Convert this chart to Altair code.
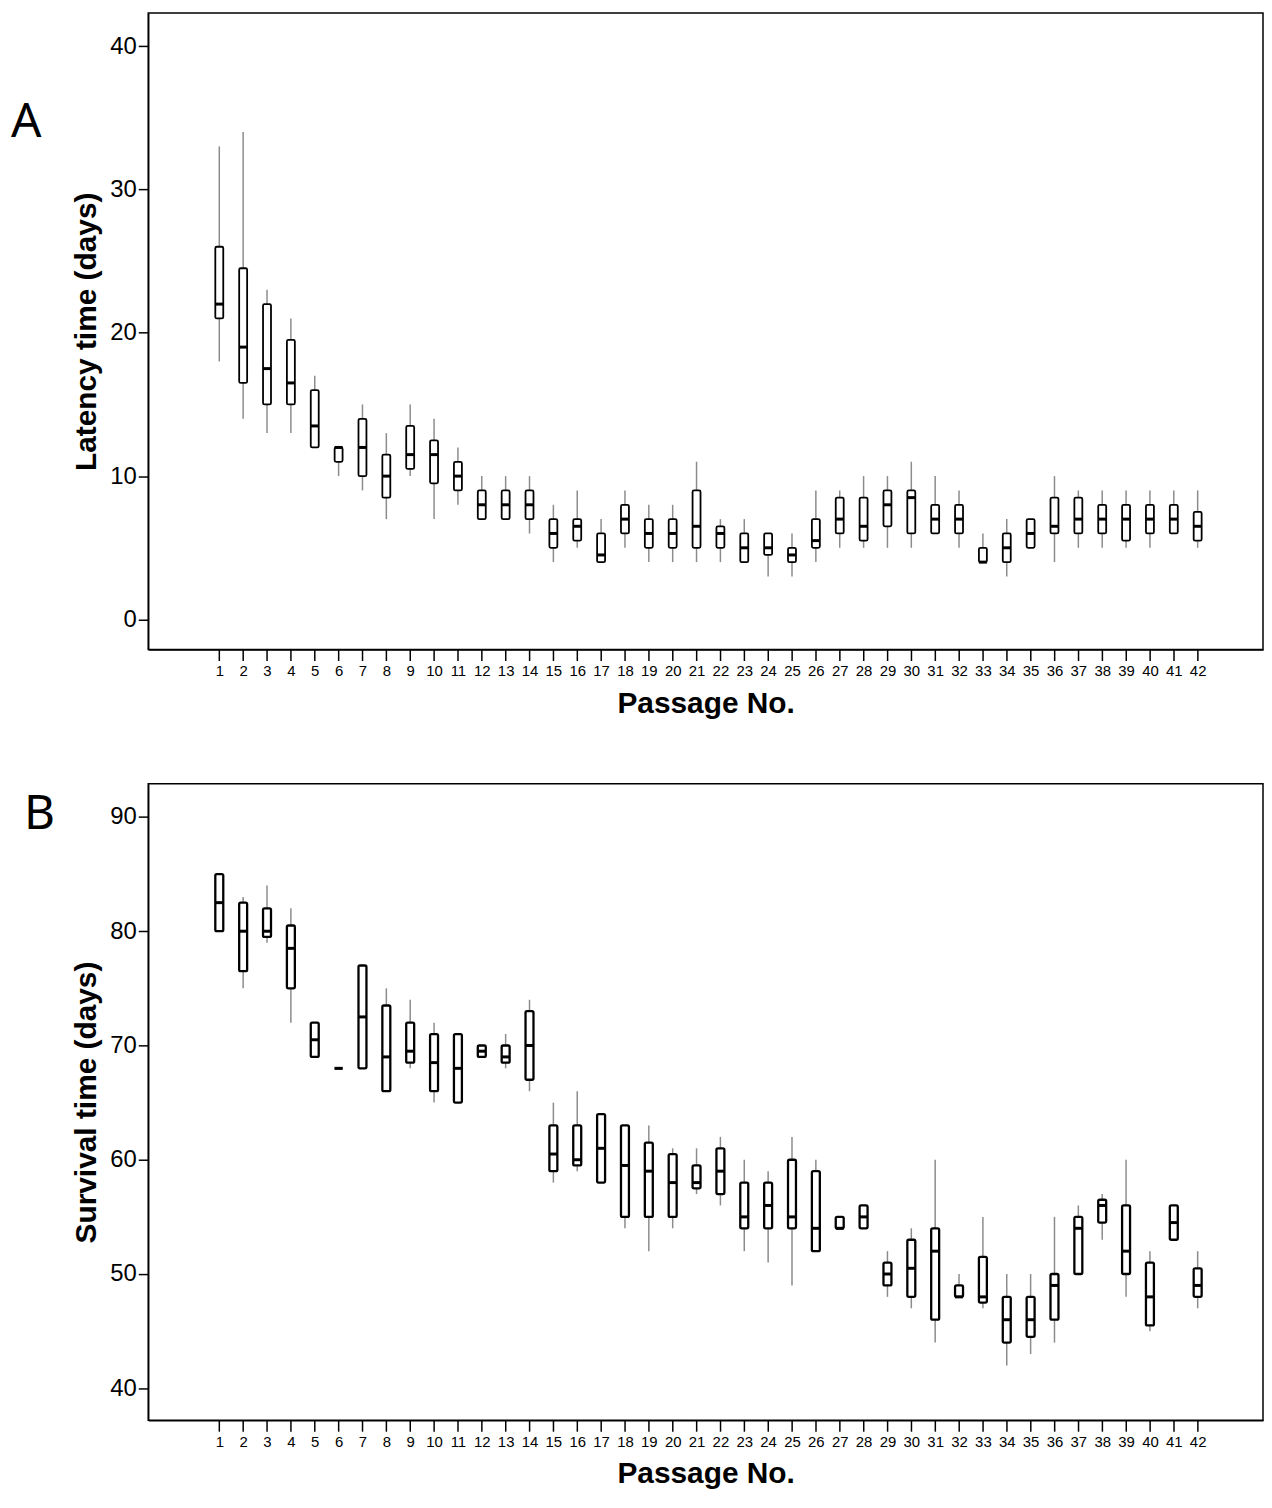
import altair as alt
import pandas as pd

passage = list(range(1, 43))

# Panel A: latency time (days) — whisker low, Q1, median, Q3, whisker high
a_lo  = [18, 14, 13, 13, 12, 10, 9, 7, 10, 7, 8, 7, 7, 6, 4, 5, 4, 5, 4, 4, 4,
         4, 4, 3, 3, 4, 5, 5, 5, 5, 6, 5, 4, 3, 5, 4, 5, 5, 5, 5, 6, 5]
a_q1  = [21, 16.5, 15, 15, 12, 11, 10, 8.5, 10.5, 9.5, 9, 7, 7, 7, 5, 5.5, 4, 6, 5, 5, 5,
         5, 4, 4.5, 4, 5, 6, 5.5, 6.5, 6, 6, 6, 4, 4, 5, 6, 6, 6, 5.5, 6, 6, 5.5]
a_med = [22, 19, 17.5, 16.5, 13.5, 12, 12, 10, 11.5, 11.5, 10, 8, 8, 8, 6, 6.5, 4.5, 7, 6, 6, 6.5,
         6, 5, 5, 4.5, 5.5, 7, 6.5, 8, 8.5, 7, 7, 4, 5, 6, 6.5, 7, 7, 7, 7, 7, 6.5]
a_q3  = [26, 24.5, 22, 19.5, 16, 12, 14, 11.5, 13.5, 12.5, 11, 9, 9, 9, 7, 7, 6, 8, 7, 7, 9,
         6.5, 6, 6, 5, 7, 8.5, 8.5, 9, 9, 8, 8, 5, 6, 7, 8.5, 8.5, 8, 8, 8, 8, 7.5]
a_hi  = [33, 34, 23, 21, 17, 12, 15, 13, 15, 14, 12, 10, 10, 10, 8, 9, 7, 9, 8, 8, 11,
         7, 7, 6, 6, 9, 9, 10, 10, 11, 10, 9, 6, 7, 7, 10, 9, 9, 9, 9, 9, 9]

# Panel B: survival time (days)
b_lo  = [80, 75, 79, 72, 69, 68, 68, 66, 68, 65, 65, 69, 68, 66, 58, 59, 58, 54, 52, 54, 57,
         56, 52, 51, 49, 52, 54, 54, 48, 47, 44, 48, 47, 42, 43, 44, 50, 53, 48, 45, 53, 47]
b_q1  = [80, 76.5, 79.5, 75, 69, 68, 68, 66, 68.5, 66, 65, 69, 68.5, 67, 59, 59.5, 58, 55, 55, 55, 57.5,
         57, 54, 54, 54, 52, 54, 54, 49, 48, 46, 48, 47.5, 44, 44.5, 46, 50, 54.5, 50, 45.5, 53, 48]
b_med = [82.5, 80, 80, 78.5, 70.5, 68, 72.5, 69, 69.5, 68.5, 68, 69.5, 69, 70, 60.5, 60, 61, 59.5, 59, 58, 58,
         59, 55, 56, 55, 54, 54, 55, 50, 50.5, 52, 48, 48, 46, 46, 49, 54, 56, 52, 48, 54.5, 49]
b_q3  = [85, 82.5, 82, 80.5, 72, 68, 77, 73.5, 72, 71, 71, 70, 70, 73, 63, 63, 64, 63, 61.5, 60.5, 59.5,
         61, 58, 58, 60, 59, 55, 56, 51, 53, 54, 49, 51.5, 48, 48, 50, 55, 56.5, 56, 51, 56, 50.5]
b_hi  = [85, 83, 84, 82, 72, 68, 77, 75, 74, 72, 71, 70, 71, 74, 65, 66, 64, 63, 63, 61, 61,
         62, 60, 59, 62, 60, 55, 56, 52, 54, 60, 50, 55, 50, 50, 55, 56, 57, 60, 52, 56, 52]

FONT = "Liberation Sans"
W, H = 1121, 640
XDOM = [-1.77, 44.53]


def panel(lo, q1, med, q3, hi, ydomain, yticks, ytitle, letter, lx, ly, sw):
    df = pd.DataFrame({"passage": passage, "lo": lo, "q1": q1,
                       "med": med, "q3": q3, "hi": hi})
    xaxis = alt.Axis(values=passage, format="d", title="Passage No.",
                     labelFontSize=15, tickSize=11, labelPadding=3,
                     titlePadding=10, labelOverlap=False, labelFlush=False)
    yaxis = alt.Axis(values=yticks, format="d", title=ytitle,
                     labelFontSize=24, tickSize=10, labelPadding=2,
                     titlePadding=8)
    xs = alt.Scale(domain=XDOM, nice=False, zero=False)
    ys = alt.Scale(domain=ydomain, nice=False, zero=False)

    def X():
        return alt.X("passage:Q", scale=xs, axis=xaxis)

    def Y(f):
        return alt.Y(f"{f}:Q", scale=ys, axis=yaxis)

    base = alt.Chart(df)
    whisk = base.mark_rule(color="#8c8c8c", strokeWidth=1.5).encode(
        x=X(), y=Y("lo"), y2="hi:Q")
    box = base.mark_bar(size=8, fill="white", stroke="black", strokeWidth=sw,
                        cornerRadius=1.5).encode(x=X(), y=Y("q1"), y2="q3:Q")
    mdn = base.mark_tick(orient="horizontal", size=8, thickness=3,
                         color="black", opacity=1).encode(x=X(), y=Y("med"))
    lab = alt.Chart(pd.DataFrame({"t": [letter]})).mark_text(
        align="left", baseline="alphabetic", fontSize=48, font="Noto Sans",
        color="black").encode(x=alt.value(lx), y=alt.value(ly), text="t:N")
    return alt.layer(whisk, box, mdn, lab).properties(width=W, height=H)


pa = panel(a_lo, a_q1, a_med, a_q3, a_hi, [-2.1, 42.3], [0, 10, 20, 30, 40],
           "Latency time (days)", "A", -138, 125, 1.8)
pb = panel(b_lo, b_q1, b_med, b_q3, b_hi, [37.2, 92.9], [40, 50, 60, 70, 80, 90],
           "Survival time (days)", "B", -125, 45, 2.3)

chart = alt.vconcat(pa, pb, spacing=64).properties(
    padding={"left": 2, "top": 0, "right": 0, "bottom": 0}
).configure(font=FONT).configure_view(
    stroke="black", strokeWidth=1.5
).configure_axis(
    grid=False, domainColor="black", domainWidth=1.5, tickColor="black",
    tickWidth=1.5, labelColor="black", titleColor="black", labelFont=FONT,
    titleFont=FONT, titleFontSize=30, titleFontWeight="bold"
)

chart.save("out.html", embed_options={"renderer": "svg", "actions": False})
